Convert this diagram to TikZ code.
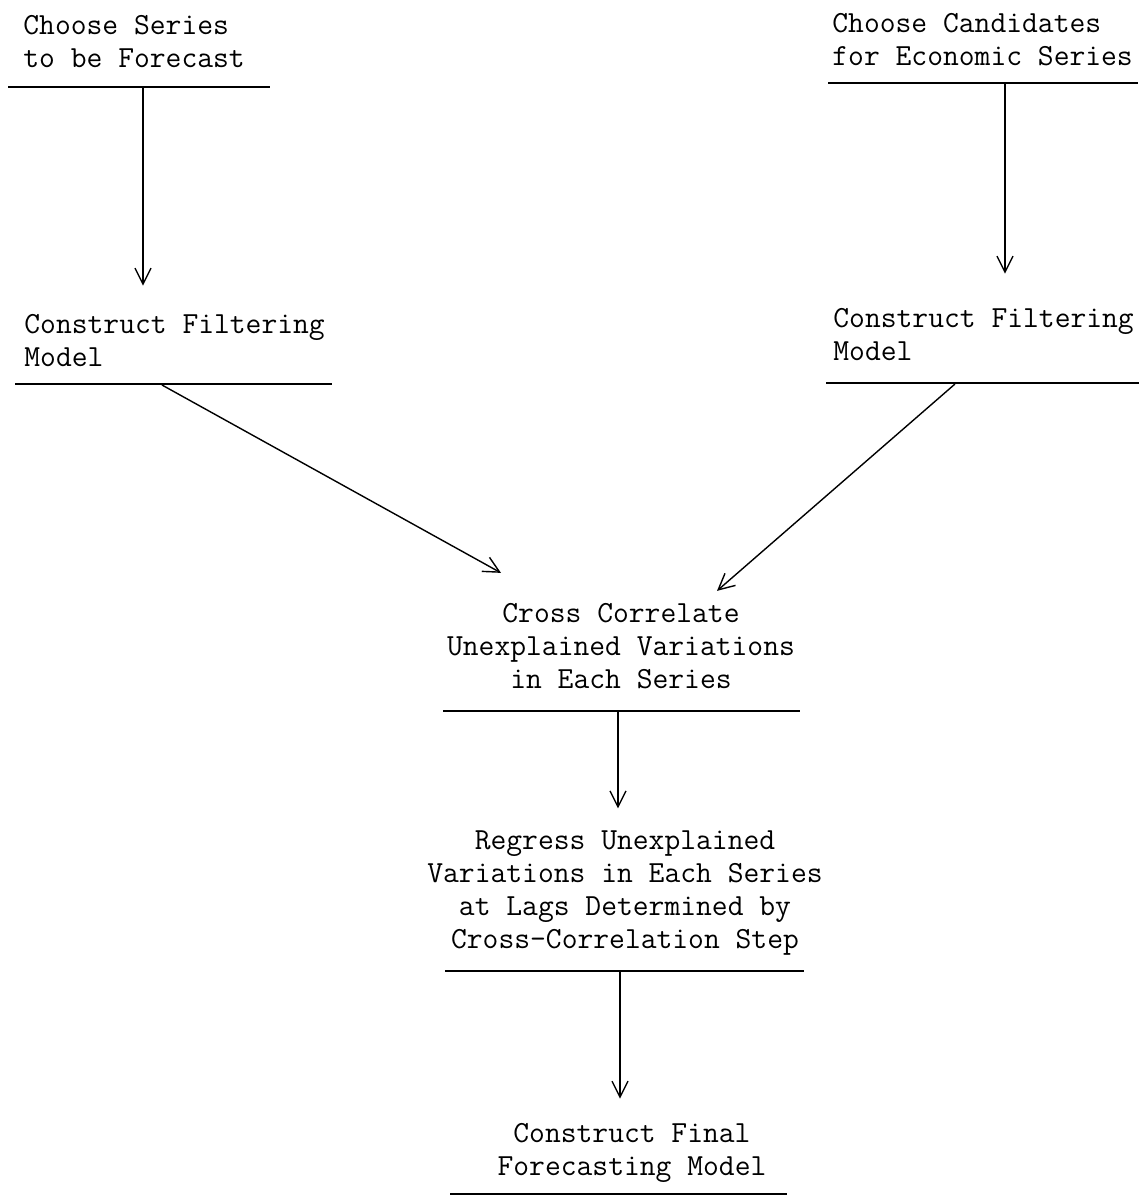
\documentclass[tikz,border=0pt]{standalone}
\usetikzlibrary{arrows.meta}

\begin{document}
\begin{tikzpicture}[x=0.5pt, y=-0.5pt, >={Straight Barb[length=8pt,width=8pt]},
  stage/.style={inner sep=0pt, font=\fontsize{15.35}{16.4}\selectfont\ttfamily},
  rule/.style={line width=0.9pt},
  flow/.style={->, line width=0.7pt}]
  \useasboundingbox (0,0) rectangle (1143,1196);
  % the two starting series (base = last line)
  \node[stage, align=left, anchor=base west] (series) at (23,67) {Choose Series\\to be Forecast};
  \draw[rule] (8,87) -- (270,87);
  \coordinate (seriesout) at (143,88);
  \node[stage, align=left, anchor=base west] (cands) at (832,65) {Choose Candidates\\for Economic Series};
  \draw[rule] (828,83) -- (1138,83);
  \coordinate (candsout) at (1005,84);
  % filtering models
  \node[stage, align=left, anchor=base west] (filterA) at (24,366) {Construct Filtering\\Model};
  \draw[rule] (15,384) -- (332,384);
  \coordinate (filterAout) at (162,385);
  \node[stage, align=left, anchor=base west] (filterB) at (833,360) {Construct Filtering\\Model};
  \draw[rule] (826,383) -- (1139,383);
  \coordinate (filterBout) at (955,384);
  \draw[flow] (seriesout) -- ([yshift=14pt]seriesout |- filterA.north);
  \draw[flow] (candsout) -- ([yshift=17pt]candsout |- filterB.north);
  % cross correlation
  \node[stage, align=center, anchor=base] (cross) at (621,688) {Cross Correlate\\Unexplained Variations\\in Each Series};
  \draw[rule] (443,711) -- (800,711);
  \coordinate (crossout) at (618,712);
  \draw[flow] (filterAout) -- ([xshift=-60pt,yshift=15pt]cross.north);
  \draw[flow] (filterBout) -- ([xshift=48pt,yshift=6pt]cross.north);
  % regression
  \node[stage, align=center, anchor=base] (regress) at (625,948) {Regress Unexplained\\Variations in Each Series\\at Lags Determined by\\Cross-Correlation Step};
  \draw[rule] (445,971) -- (804,971);
  \coordinate (regressout) at (620,972);
  \draw[flow] (crossout) -- ([yshift=11pt]crossout |- regress.north);
  % final model
  \node[stage, align=center, anchor=base] (final) at (632,1175) {Construct Final\\Forecasting Model};
  \draw[rule] (450,1194) -- (787,1194);
  \draw[flow] (regressout) -- ([yshift=12pt]regressout |- final.north);
\end{tikzpicture}
\end{document}
